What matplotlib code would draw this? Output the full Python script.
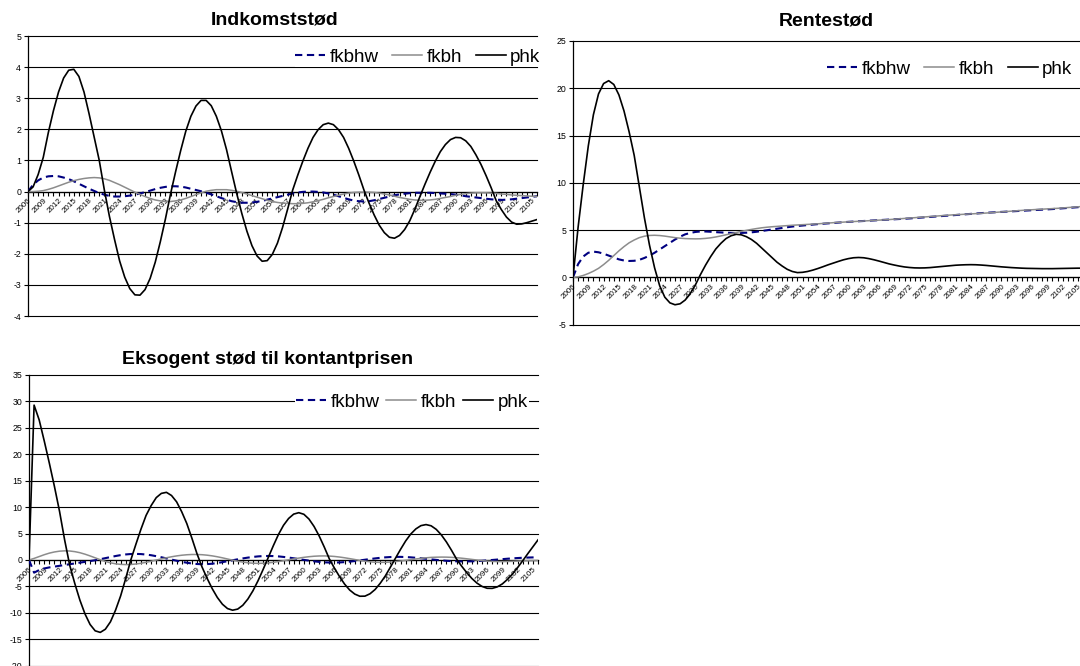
import matplotlib
matplotlib.use("Agg")
import matplotlib.pyplot as plt
from matplotlib.ticker import MultipleLocator

plt.rcParams["font.family"] = ["Liberation Sans", "DejaVu Sans"]
plt.rcParams["axes.unicode_minus"] = False

# -------------------------------------------------
# DATA: responses 2006-2106
# -------------------------------------------------

years = list(range(2006, 2107))
label_years = list(range(2006, 2106, 3))

indk_fkbhw = [
    0.00, 0.22, 0.36, 0.45, 0.49, 0.50, 0.49, 0.45, 0.40, 0.33,
    0.25, 0.17, 0.09, 0.02, -0.05, -0.10, -0.14, -0.16, -0.16, -0.15,
    -0.13, -0.10, -0.06, -0.02, 0.03, 0.08, 0.12, 0.15, 0.17, 0.17,
    0.16, 0.13, 0.09, 0.05, 0.01, -0.04, -0.09, -0.15, -0.21, -0.26,
    -0.31, -0.34, -0.36, -0.36, -0.35, -0.33, -0.30, -0.26, -0.22, -0.18,
    -0.14, -0.10, -0.06, -0.03, -0.01, 0.00, 0.00, -0.01, -0.03, -0.06,
    -0.10, -0.15, -0.20, -0.25, -0.29, -0.31, -0.32, -0.31, -0.28, -0.24,
    -0.20, -0.16, -0.12, -0.09, -0.07, -0.05, -0.04, -0.04, -0.04, -0.04,
    -0.05, -0.06, -0.07, -0.08, -0.10, -0.12, -0.15, -0.17, -0.19, -0.21,
    -0.23, -0.25, -0.26, -0.27, -0.26, -0.25, -0.23, -0.21, -0.19, -0.17,
    -0.15,
]
indk_fkbh = [
    0.00, 0.00, 0.01, 0.03, 0.07, 0.12, 0.18, 0.24, 0.30, 0.35,
    0.39, 0.42, 0.44, 0.45, 0.44, 0.41, 0.36, 0.29, 0.22, 0.14,
    0.06, -0.02, -0.09, -0.16, -0.22, -0.27, -0.30, -0.32, -0.32, -0.30,
    -0.27, -0.22, -0.16, -0.10, -0.04, 0.01, 0.04, 0.06, 0.06, 0.06,
    0.04, 0.01, -0.03, -0.08, -0.13, -0.18, -0.23, -0.28, -0.32, -0.35,
    -0.37, -0.38, -0.39, -0.39, -0.38, -0.36, -0.33, -0.29, -0.25, -0.20,
    -0.16, -0.12, -0.08, -0.05, -0.03, -0.02, -0.02, -0.02, -0.03, -0.05,
    -0.08, -0.11, -0.15, -0.19, -0.22, -0.25, -0.27, -0.28, -0.28, -0.27,
    -0.25, -0.22, -0.19, -0.16, -0.12, -0.09, -0.07, -0.05, -0.04, -0.04,
    -0.04, -0.05, -0.06, -0.08, -0.09, -0.11, -0.12, -0.13, -0.14, -0.15,
    -0.16,
]
indk_phk = [
    0.00, 0.15, 0.55, 1.10, 1.90, 2.60, 3.20, 3.65, 3.90, 3.93,
    3.70, 3.20, 2.50, 1.75, 1.00, 0.05, -0.80, -1.54, -2.23, -2.75,
    -3.12, -3.32, -3.33, -3.15, -2.79, -2.27, -1.61, -0.88, -0.08, 0.64,
    1.32, 1.94, 2.42, 2.75, 2.93, 2.93, 2.76, 2.42, 1.95, 1.35,
    0.64, -0.06, -0.70, -1.27, -1.74, -2.07, -2.24, -2.22, -2.02, -1.66,
    -1.16, -0.57, 0.05, 0.53, 0.98, 1.39, 1.74, 1.99, 2.15, 2.20,
    2.15, 1.99, 1.74, 1.39, 0.98, 0.53, 0.05, -0.37, -0.75, -1.08,
    -1.32, -1.47, -1.50, -1.41, -1.22, -0.94, -0.57, -0.16, 0.24, 0.62,
    0.97, 1.28, 1.51, 1.67, 1.74, 1.73, 1.63, 1.45, 1.18, 0.87,
    0.51, 0.12, -0.30, -0.58, -0.82, -0.98, -1.05, -1.04, -1.00, -0.95,
    -0.90,
]

rente_fkbhw = [
    0.00, 1.40, 2.20, 2.60, 2.72, 2.65, 2.50, 2.30, 2.10, 1.90,
    1.78, 1.73, 1.75, 1.85, 2.05, 2.30, 2.60, 2.95, 3.30, 3.65,
    4.00, 4.30, 4.55, 4.70, 4.80, 4.85, 4.85, 4.82, 4.78, 4.75,
    4.72, 4.70, 4.69, 4.70, 4.72, 4.76, 4.82, 4.90, 4.98, 5.06,
    5.14, 5.22, 5.30, 5.37, 5.43, 5.48, 5.53, 5.58, 5.63, 5.67,
    5.71, 5.75, 5.79, 5.83, 5.87, 5.90, 5.93, 5.96, 5.99, 6.02,
    6.05, 6.08, 6.11, 6.14, 6.17, 6.20, 6.23, 6.27, 6.31, 6.35,
    6.39, 6.43, 6.47, 6.51, 6.55, 6.59, 6.63, 6.67, 6.71, 6.75,
    6.79, 6.83, 6.86, 6.89, 6.92, 6.95, 6.98, 7.01, 7.04, 7.07,
    7.10, 7.13, 7.16, 7.19, 7.22, 7.26, 7.30, 7.34, 7.38, 7.42,
    7.46,
]
rente_fkbh = [
    0.00, 0.05, 0.20, 0.40, 0.65, 0.95, 1.35, 1.80, 2.30, 2.80,
    3.25, 3.65, 3.95, 4.20, 4.35, 4.43, 4.45, 4.42, 4.36, 4.28,
    4.20, 4.14, 4.10, 4.08, 4.07, 4.08, 4.12, 4.18, 4.27, 4.38,
    4.50, 4.62, 4.74, 4.86, 4.97, 5.07, 5.16, 5.24, 5.30, 5.35,
    5.39, 5.43, 5.47, 5.51, 5.54, 5.57, 5.60, 5.63, 5.66, 5.70,
    5.74, 5.78, 5.81, 5.84, 5.87, 5.90, 5.93, 5.96, 5.99, 6.02,
    6.05, 6.08, 6.11, 6.15, 6.19, 6.23, 6.27, 6.31, 6.35, 6.39,
    6.43, 6.47, 6.51, 6.55, 6.59, 6.62, 6.65, 6.68, 6.71, 6.74,
    6.77, 6.80, 6.84, 6.88, 6.92, 6.96, 7.00, 7.04, 7.08, 7.12,
    7.15, 7.18, 7.21, 7.24, 7.27, 7.30, 7.34, 7.38, 7.42, 7.46,
    7.50,
]
rente_phk = [
    0.00, 5.30, 9.80, 13.90, 17.20, 19.40, 20.50, 20.80, 20.40, 19.30,
    17.60, 15.40, 12.90, 9.60, 6.30, 3.40, 1.00, -0.90, -2.10, -2.70,
    -2.90, -2.80, -2.40, -1.70, -0.80, 0.30, 1.30, 2.20, 3.00, 3.60,
    4.10, 4.40, 4.55, 4.50, 4.30, 4.00, 3.60, 3.10, 2.60, 2.10,
    1.60, 1.20, 0.85, 0.62, 0.50, 0.53, 0.62, 0.76, 0.93, 1.12,
    1.32, 1.50, 1.68, 1.85, 1.98, 2.07, 2.10, 2.07, 1.98, 1.86,
    1.72, 1.57, 1.42, 1.30, 1.19, 1.10, 1.04, 1.00, 0.99, 1.00,
    1.03, 1.08, 1.13, 1.18, 1.23, 1.28, 1.31, 1.33, 1.34, 1.33,
    1.30, 1.26, 1.21, 1.16, 1.11, 1.07, 1.03, 1.00, 0.97, 0.95,
    0.94, 0.93, 0.92, 0.92, 0.92, 0.93, 0.94, 0.95, 0.96, 0.97,
    0.97,
]

kont_fkbhw = [
    0.00, -2.40, -1.90, -1.60, -1.40, -1.25, -1.10, -0.95, -0.80, -0.65,
    -0.50, -0.35, -0.20, -0.05, 0.15, 0.35, 0.55, 0.75, 0.92, 1.05,
    1.13, 1.15, 1.12, 1.03, 0.90, 0.72, 0.52, 0.30, 0.08, -0.14,
    -0.34, -0.52, -0.66, -0.76, -0.80, -0.78, -0.70, -0.57, -0.41, -0.23,
    -0.05, 0.13, 0.30, 0.45, 0.58, 0.68, 0.74, 0.76, 0.74, 0.68,
    0.58, 0.46, 0.32, 0.17, 0.02, -0.12, -0.25, -0.36, -0.44, -0.48,
    -0.49, -0.46, -0.40, -0.31, -0.20, -0.08, 0.05, 0.18, 0.30, 0.41,
    0.50, 0.56, 0.59, 0.59, 0.56, 0.50, 0.42, 0.33, 0.23, 0.12,
    0.02, -0.07, -0.15, -0.21, -0.25, -0.27, -0.27, -0.25, -0.21, -0.15,
    -0.08, 0.00, 0.08, 0.16, 0.24, 0.31, 0.37, 0.42, 0.46, 0.49,
    0.50,
]
kont_fkbh = [
    0.00, 0.30, 0.65, 1.00, 1.30, 1.52, 1.67, 1.73, 1.70, 1.58,
    1.38, 1.10, 0.77, 0.41, 0.05, -0.27, -0.53, -0.72, -0.83, -0.87,
    -0.85, -0.76, -0.62, -0.44, -0.23, -0.01, 0.21, 0.42, 0.61, 0.77,
    0.90, 0.99, 1.04, 1.04, 1.00, 0.91, 0.78, 0.61, 0.41, 0.19,
    -0.03, -0.23, -0.40, -0.53, -0.61, -0.64, -0.62, -0.55, -0.44, -0.30,
    -0.14, 0.03, 0.20, 0.36, 0.50, 0.62, 0.71, 0.76, 0.77, 0.74,
    0.67, 0.56, 0.42, 0.26, 0.09, -0.08, -0.22, -0.34, -0.42, -0.45,
    -0.44, -0.39, -0.30, -0.19, -0.07, 0.06, 0.19, 0.31, 0.41, 0.49,
    0.53, 0.55, 0.54, 0.50, 0.43, 0.34, 0.23, 0.11, -0.01, -0.12,
    -0.21, -0.27, -0.30, -0.30, -0.28, -0.25, -0.21, -0.17, -0.14, -0.12,
    -0.10,
]
kont_phk = [
    0.00, 29.30, 26.50, 22.50, 18.30, 13.90, 9.20, 3.80, -1.00, -4.46,
    -7.60, -10.20, -12.20, -13.40, -13.70, -13.10, -11.70, -9.50, -6.80, -3.50,
    0.00, 2.97, 5.84, 8.43, 10.30, 11.80, 12.60, 12.80, 12.20, 11.00,
    9.13, 6.90, 4.13, 1.20, -1.34, -3.48, -5.43, -7.09, -8.37, -9.19,
    -9.50, -9.29, -8.57, -7.39, -5.82, -3.92, -1.78, 0.46, 2.70, 4.81,
    6.56, 7.85, 8.68, 8.95, 8.65, 7.75, 6.35, 4.56, 2.47, 0.22,
    -1.53, -3.13, -4.56, -5.68, -6.45, -6.86, -6.84, -6.39, -5.58, -4.41,
    -3.02, -1.36, 0.34, 2.02, 3.60, 4.91, 5.88, 6.50, 6.70, 6.47,
    5.80, 4.76, 3.42, 1.85, 0.17, -1.17, -2.39, -3.49, -4.37, -5.00,
    -5.35, -5.37, -5.09, -4.52, -3.67, -2.64, -1.43, -0.14, 1.20, 2.50,
    3.80,
]

# -------------------------------------------------
# FIGURE
# -------------------------------------------------

W, H = 1080, 666
fig = plt.figure(figsize=(W / 100, H / 100), dpi=100)


def px_rect(left, top, right, bottom):
    return [left / W, 1 - bottom / H, (right - left) / W, (bottom - top) / H]


def draw_panel(rect, fkbhw, fkbh, phk, ymin, ymax, ystep, title, title_xy, leg_xy, colsp=0.7):
    ax = fig.add_axes(rect)
    ax.plot(years, fkbhw, color="#000080", lw=1.5, ls=(0, (3.5, 2.2)), label="fkbhw", zorder=3)
    ax.plot(years, fkbh, color="#8c8c8c", lw=1.1, label="fkbh", zorder=3)
    ax.plot(years, phk, color="black", lw=1.2, label="phk", zorder=4)

    ax.set_xlim(2006, 2106)
    ax.set_ylim(ymin, ymax)
    ax.yaxis.set_major_locator(MultipleLocator(ystep))
    ax.yaxis.grid(True, color="black", lw=0.8)
    ax.set_axisbelow(True)
    for gl in ax.get_ygridlines():
        gl.set_clip_on(False)

    for s in ["top", "right"]:
        ax.spines[s].set_visible(False)
    ax.spines["left"].set_linewidth(0.9)
    ax.spines["bottom"].set_position(("data", 0))
    ax.spines["bottom"].set_linewidth(0.9)
    ax.spines["bottom"].set_zorder(2)

    ax.set_xticks(years)
    ax.set_xticklabels([str(y) if y in label_years else "" for y in years],
                       rotation=45, ha="right", rotation_mode="anchor")
    ax.tick_params(axis="x", direction="out", length=3, width=0.8, labelsize=5.8, pad=1)
    ax.tick_params(axis="y", direction="out", length=3, width=0.8, labelsize=6.3, pad=2)

    fig.text(title_xy[0] / W, 1 - title_xy[1] / H, title, fontsize=14,
             fontweight="bold", ha="center", va="center")

    leg = ax.legend(loc="center", bbox_to_anchor=(leg_xy[0] / W, 1 - leg_xy[1] / H),
                    bbox_transform=fig.transFigure, ncol=3, fontsize=13.5,
                    frameon=True, fancybox=False, framealpha=1, edgecolor="none",
                    handlelength=1.6, handletextpad=0.25, columnspacing=colsp,
                    borderpad=0.05, borderaxespad=0)
    leg.set_zorder(5)
    return ax


draw_panel(px_rect(28, 36, 537, 316), indk_fkbhw, indk_fkbh, indk_phk,
           -4, 5, 1, "Indkomststød", (275, 20), (418, 57))

draw_panel(px_rect(573, 41, 1083, 324.6), rente_fkbhw, rente_fkbh, rente_phk,
           -5, 25, 5, "Rentestød", (826, 21), (950, 69))

draw_panel(px_rect(29, 375, 538, 665.7), kont_fkbhw, kont_fkbh, kont_phk,
           -20, 35, 5, "Eksogent stød til kontantprisen", (268, 360), (412, 402), colsp=0.35)

fig.savefig("out.png", dpi=100)
